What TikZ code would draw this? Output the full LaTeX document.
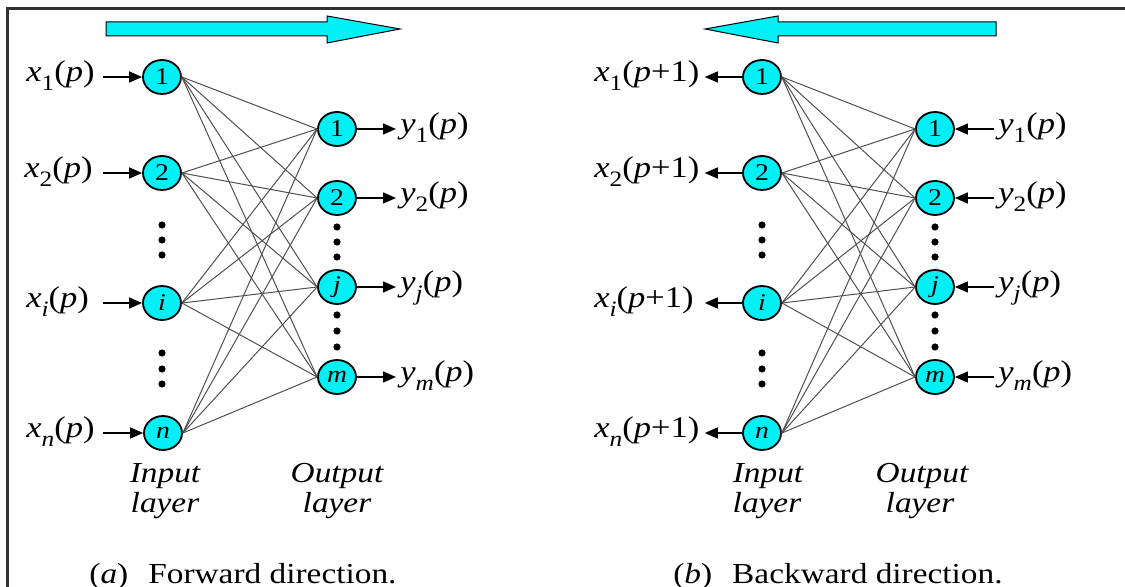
\documentclass[tikz,border=0pt]{standalone}
\usepackage{fontspec}
\setmainfont{Liberation Serif}[FakeStretch=1.15]
\usetikzlibrary{shapes.geometric,arrows.meta}
\definecolor{nodecyan}{RGB}{0,240,245}
\definecolor{framegray}{RGB}{50,50,50}
\definecolor{wiregray}{RGB}{80,80,80}
\newcommand\lsub[1]{\raisebox{-0.28em}{\fontsize{11pt}{12pt}\selectfont #1}}
\newcommand\xlab[2]{\textit{x}\lsub{#1}(\textit{p}#2)}
\newcommand\ylab[1]{\textit{y}\lsub{#1}(\textit{p})}
\begin{document}
\begin{tikzpicture}[x=0.5pt,y=-0.5pt,
 neuron/.style={ellipse,draw=black,line width=0.9pt,fill=nodecyan,minimum width=19pt,minimum height=17pt,inner sep=0pt,font=\fontsize{12pt}{13pt}\selectfont},
 wire/.style={draw=wiregray,line width=0.5pt},
 sig/.style={draw=black,line width=0.75pt,-{Triangle[length=6.5pt,width=5.5pt]}},
 lab/.style={font=\fontsize{15pt}{17pt}\selectfont,inner sep=2pt,text height=0.72em,text depth=0.25em,anchor=west},
 inlabA/.style={lab,text width=36pt,align=left},
 inlabB/.style={lab,text width=53pt,align=left},
 layerlab/.style={font=\fontsize{14.5pt}{16pt}\selectfont\itshape,inner sep=0pt,anchor=base},
 captionlab/.style={font=\fontsize{14.5pt}{16pt}\selectfont,inner sep=0pt,anchor=base},
 bigarrow/.style={fill=nodecyan,draw=black,line width=0.5pt},
 dotmark/.style={fill=black}]

\useasboundingbox[fill=white] (0,0) rectangle (1125,587);
\draw[framegray,line width=1.5pt] (7,587) -- (7,9) -- (1125,9);

% big direction arrows
\draw[bigarrow] (106,22) -- (327,22) -- (327,16) -- (400,29) -- (327,43) -- (327,36) -- (106,36) -- cycle;
\draw[bigarrow] (996,22) -- (778,22) -- (778,16) -- (705,29) -- (778,43) -- (778,36) -- (996,36) -- cycle;

% ---------- (a) forward ----------
\node[neuron] (a1) at (162,77) {1};
\node[neuron] (a2) at (162,173) {2};
\node[neuron] (ai) at (162,303) {\textit{i}};
\node[neuron] (an) at (163,433) {\textit{n}};
\node[neuron] (b1) at (337,129) {1};
\node[neuron] (b2) at (337,198) {2};
\node[neuron] (bj) at (337,287) {\textit{j}};
\node[neuron] (bm) at (337,377) {\textit{m}};
\foreach \s in {a1,a2,ai,an}
  \foreach \t in {b1,b2,bj,bm}
    \draw[wire] (\s.east) -- (\t.west);

\node[inlabA] (xa1) at (22,77) {\xlab{1}{}};
\node[inlabA] (xa2) at (20,173) {\xlab{2}{}};
\node[inlabA] (xai) at (22,303) {\xlab{\textit{i}}{}};
\node[inlabA] (xan) at (22,433) {\xlab{\textit{n}}{}};
\draw[sig] (xa1.east) -- (a1.west);
\draw[sig] ([xshift=1pt]xa2.east) -- (a2.west);
\draw[sig] (xai.east) -- (ai.west);
\draw[sig] (xan.east) -- (an.west);

\node[lab] (ya1) at (396,129) {\ylab{1}};
\node[lab] (ya2) at (396,198) {\ylab{2}};
\node[lab] (yaj) at (396,287) {\ylab{\textit{j}}};
\node[lab] (yam) at (396,377) {\ylab{\textit{m}}};
\draw[sig] (b1.east) -- (ya1.west);
\draw[sig] (b2.east) -- (ya2.west);
\draw[sig] (bj.east) -- (yaj.west);
\draw[sig] (bm.east) -- (yam.west);

\foreach \y in {225,240,255,353,369,384} \fill[dotmark] (162,\y) circle[radius=1.8pt];
\foreach \y in {227,242,257,315,331,347} \fill[dotmark] (337,\y) circle[radius=1.8pt];

\node[layerlab] (inA) at (165,483) {Input};
\node[layerlab] (inA2) at (165,513) {layer};
\node[layerlab] (outA) at (337,483) {Output};
\node[layerlab] (outA2) at (337,513) {layer};
\node[captionlab] (capA) at (243,583) {(\textit{a})\hspace{10pt}Forward direction.};

% ---------- (b) backward ----------
\node[neuron] (c1) at (762,77) {1};
\node[neuron] (c2) at (762,173) {2};
\node[neuron] (ci) at (762,303) {\textit{i}};
\node[neuron] (cn) at (762,433) {\textit{n}};
\node[neuron] (d1) at (935,129) {1};
\node[neuron] (d2) at (935,198) {2};
\node[neuron] (dj) at (935,287) {\textit{j}};
\node[neuron] (dm) at (935,377) {\textit{m}};
\foreach \s in {c1,c2,ci,cn}
  \foreach \t in {d1,d2,dj,dm}
    \draw[wire] (\s.east) -- (\t.west);

\node[inlabB] (xb1) at (590,77) {\xlab{1}{+1}};
\node[inlabB] (xb2) at (590,173) {\xlab{2}{+1}};
\node[inlabB] (xbi) at (590,303) {\xlab{\textit{i}}{+1}};
\node[inlabB] (xbn) at (590,433) {\xlab{\textit{n}}{+1}};
\draw[sig] (c1.west) -- (xb1.east);
\draw[sig] (c2.west) -- (xb2.east);
\draw[sig] (ci.west) -- (xbi.east);
\draw[sig] (cn.west) -- (xbn.east);

\node[lab] (yb1) at (994,129) {\ylab{1}};
\node[lab] (yb2) at (994,198) {\ylab{2}};
\node[lab] (ybj) at (994,287) {\ylab{\textit{j}}};
\node[lab] (ybm) at (994,377) {\ylab{\textit{m}}};
\draw[sig] (yb1.west) -- (d1.east);
\draw[sig] (yb2.west) -- (d2.east);
\draw[sig] (ybj.west) -- (dj.east);
\draw[sig] (ybm.west) -- (dm.east);

\foreach \y in {225,240,255,353,369,384} \fill[dotmark] (762,\y) circle[radius=1.8pt];
\foreach \y in {227,242,257,315,331,347} \fill[dotmark] (935,\y) circle[radius=1.8pt];

\node[layerlab] (inB) at (768,483) {Input};
\node[layerlab] (inB2) at (767,513) {layer};
\node[layerlab] (outB) at (922,483) {Output};
\node[layerlab] (outB2) at (920,513) {layer};
\node[captionlab] (capB) at (838,583) {(\textit{b})\hspace{10pt}Backward direction.};
\end{tikzpicture}
\end{document}
